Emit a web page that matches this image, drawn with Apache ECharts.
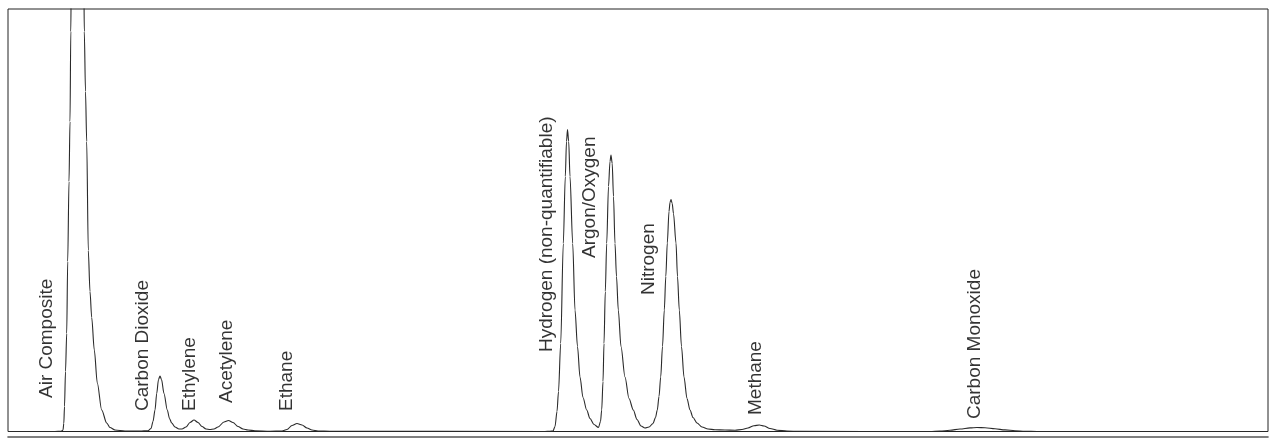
<!DOCTYPE html>
<html>
<head>
<meta charset="utf-8">
<script src="https://cdn.jsdelivr.net/npm/echarts@6/dist/echarts.min.js"></script>
<style>
html,body{margin:0;padding:0;background:#fff;}
#chart{width:1275px;height:447px;}
</style>
</head>
<body>
<div id="chart"></div>
<script>
// Retention position (arbitrary units) and detector signal
var retention = [8,55,61,62,63,63.8,64.5,65.5,66.7,67.7,69,70,70.8,71.3,77,83.8,84.3,85.5,86.7,88.3,90,91.7,94.3,97.3,101.7,106.7,110,115,125,140,148,151,153,155,156.7,158.5,160,161.5,164,167.3,169.5,171.7,175,179,182,186,190,194,198,202,206,210,214,218,224,228.5,233,238,243,248,255,270,282,287,292,297,302,307,312,318,330,545,550,553,555,557,558.5,560.7,563.3,565.3,566.5,567.5,568.7,570,572.7,575,577.5,580,583,586.7,590,594,598.5,600.5,601.7,603,604,605.3,606.7,608.5,610,611,612.2,613.5,615,616.5,618.3,621,625,629,633.3,637,641,645,649,653,655.5,657.3,659,660.7,662.5,664.3,665.8,667.3,669,670,671,672.2,673.5,676,677.5,679.3,681.5,684,687,690,693,697,702,708,715,725,735,742,748,754,759.3,764,770,777,787,800,930,940,950,960,970,977,985,995,1005,1015,1025,1037,1268];
var signal = [0,0,0.2,0.6,1.5,8,25,60,98,170,250,310,400,460,560,460,400,340,290,181,140,114,81.5,48.5,21.5,8.5,4,1.5,0.5,0.4,0.8,3,10,21.5,38,52,55.5,52,38,21.5,13,8.5,4.5,2.5,2.5,4.5,9,11.5,9,5,2.5,2,2.5,4.5,9.5,11,9,5,2.5,1.5,0.8,0.3,0.5,2,6,8,6.5,3.5,1.5,0.5,0.2,0,0.3,0.5,5,20,40,88,188,255,290,302,290,255,188,121.5,85,54.5,34,21.5,13,7,4,10,21.5,50,88,140,188,245,270,276.5,268,235,188,155,121.5,85,54.5,33,21.5,12,5.5,3.5,4.5,8,14,21.5,35,54.5,85,121.5,155,188.5,220,229,232,228,218,188.5,155,121.5,85,54.5,33,21.5,14,8.5,4.5,2.5,1.8,1.5,1.3,2,3.5,5.8,6.5,5.5,3,1.3,0.4,0.1,0,0.4,1.2,2.5,3.6,4,3.7,2.7,1.6,0.8,0.3,0,0];

// Peak names and label anchor (retention, signal level where the label starts)
var peakNames = ['Air Composite','Carbon Dioxide','Ethylene','Acetylene','Ethane','Hydrogen (non-quantifiable)','Argon/Oxygen','Nitrogen','Methane','Carbon Monoxide'];
var labelRetention = [47,143,190,227,287,547,590,649,756,975];
var labelLevel = [33.5,20.5,20.5,28.5,20.5,79.5,173.5,136.5,16.5,12.5];

var curve = retention.map(function(t,i){return [t, signal[i]];});
var labels = peakNames.map(function(n,i){return {value:[labelRetention[i], labelLevel[i]], name:n};});

var chart = echarts.init(document.getElementById('chart'), null, {renderer:'canvas'});
chart.setOption({
  animation:false,
  backgroundColor:'#ffffff',
  grid:{left:8,right:7,top:9,bottom:15.5,show:true,borderColor:'#222',borderWidth:1,backgroundColor:'transparent'},
  xAxis:{type:'value',min:8,max:1268,
    axisLine:{show:true,onZero:false,lineStyle:{color:'#555',width:1.6}},
    offset:5.5,
    axisTick:{show:false},axisLabel:{show:false},splitLine:{show:false}},
  yAxis:{type:'value',min:0,max:422.5,show:false,splitLine:{show:false}},
  series:[
    {type:'line',data:curve,showSymbol:false,symbol:'none',clip:true,
     smooth:0.3,smoothMonotone:'x',
     lineStyle:{color:'#2a2a2a',width:1.1}},
    {type:'scatter',data:labels,symbolSize:0,silent:true,
     label:{show:true,position:'inside',formatter:function(p){return p.name;},
       rotate:90,align:'left',verticalAlign:'middle',
       fontFamily:'Liberation Sans, Arial, sans-serif',fontSize:19,color:'#000'}}
  ]
});
</script>
</body>
</html>
